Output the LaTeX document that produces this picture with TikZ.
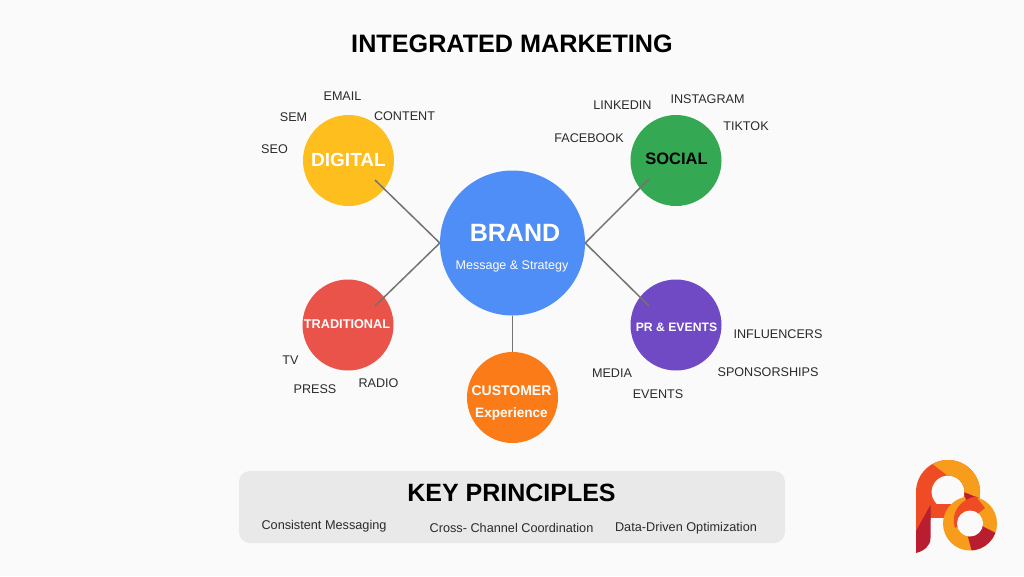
\documentclass[tikz,border=0pt]{standalone}
\usepackage{fontspec}
\setmainfont{Liberation Sans}
\definecolor{bgc}{HTML}{FAFAFA}
\definecolor{cyel}{HTML}{FDBE1E}
\definecolor{cgrn}{HTML}{34A853}
\definecolor{cred}{HTML}{EA5349}
\definecolor{cpur}{HTML}{6F4AC4}
\definecolor{cora}{HTML}{FA7B17}
\definecolor{cblu}{HTML}{4F8DF7}
\definecolor{cpanel}{HTML}{E9E9E9}
\definecolor{ctxt}{HTML}{2B2B2B}
\definecolor{lgr}{HTML}{EF4B24}
\definecolor{lgo}{HTML}{F89C1C}
\definecolor{lgd}{HTML}{B81E30}
\newcommand{\fsz}[1]{\fontsize{#1}{#1}\selectfont}
\tikzset{
  x=1pt,y=-1pt,
  hub/.style={circle,fill=#1,minimum size=91pt,inner sep=0pt},
  lbl/.style={text=ctxt,font=\fsz{12.6},inner sep=0pt,anchor=center},
  link/.style={draw=black!55,line width=1.5pt},
  prin/.style={text=ctxt,font=\fsz{12.7},inner sep=0pt,anchor=center},
}
\begin{document}
\begin{tikzpicture}
\useasboundingbox (0,0) rectangle (1024,576);
\fill[bgc] (0,0) rectangle (1024,576);
\node[inner sep=0pt,font=\bfseries\fsz{25.2}] (title) at (512,44) {INTEGRATED MARKETING};
% hubs
\node[hub=cblu,minimum size=145pt] (brand) at (512.5,243) {};
\node[hub=cyel] (digital) at (348.5,160.5) {};
\node[hub=cgrn] (social) at (676,160.5) {};
\node[hub=cred] (trad) at (348,325) {};
\node[hub=cpur] (pr) at (676,325) {};
\node[hub=cora] (cust) at (512.5,397.5) {};
% connector ends
\coordinate (dEnd) at (375,180);
\coordinate (sEnd) at (649,179);
\coordinate (tEnd) at (375,306);
\coordinate (pEnd) at (649,306);
\draw[link] (brand.west) -- (dEnd);
\draw[link] (brand.west) -- (tEnd);
\draw[link] (brand.east) -- (sEnd);
\draw[link] (brand.east) -- (pEnd);
\draw[link] (brand.south) -- (cust.north);
% hub labels
\node[inner sep=0pt,text=white,font=\bfseries\fsz{25}] (brandT) at (515,233) {BRAND};
\node[inner sep=0pt,text=white,font=\fsz{12.5}] (brandS) at (512,266) {Message \& Strategy};
\node[inner sep=0pt,text=white,font=\bfseries\fsz{19}] (digT) at (348.5,159.5) {DIGITAL};
\node[inner sep=0pt,text=black,font=\bfseries\fsz{16.5}] (socT) at (676.5,159) {SOCIAL};
\node[inner sep=0pt,text=white,font=\bfseries\fsz{12.7}] (traT) at (347,324.5) {TRADITIONAL};
\node[inner sep=0pt,text=white,font=\bfseries\fsz{12.2}] (prT) at (676.5,327.5) {PR \& EVENTS};
\node[inner sep=0pt,text=white,font=\bfseries\fsz{14}] (cuT) at (511.5,391) {CUSTOMER};
\node[inner sep=0pt,text=white,font=\bfseries\fsz{13.6}] (cuS) at (511.5,413.5) {Experience};
% satellites
\node[lbl] (seo) at (274.5,149) {SEO};
\node[lbl] (sem) at (293.5,117.5) {SEM};
\node[lbl] (email) at (342.5,96) {EMAIL};
\node[lbl] (content) at (404.5,116.5) {CONTENT};
\node[lbl] (fb) at (589,138) {FACEBOOK};
\node[lbl] (li) at (622.5,105.5) {LINKEDIN};
\node[lbl] (ig) at (707.5,99) {INSTAGRAM};
\node[lbl] (tt) at (746,126) {TIKTOK};
\node[lbl] (tv) at (290.5,360) {TV};
\node[lbl] (press) at (315,389.5) {PRESS};
\node[lbl] (radio) at (378.5,383) {RADIO};
\node[lbl] (media) at (612,373) {MEDIA};
\node[lbl] (events) at (658,394) {EVENTS};
\node[lbl] (spons) at (768,372.5) {SPONSORSHIPS};
\node[lbl] (infl) at (778,334) {INFLUENCERS};
% panel
\fill[cpanel,rounded corners=11pt] (239,471) rectangle (785,543);
\node[inner sep=0pt,font=\bfseries\fsz{25}] (key) at (511.5,492.5) {KEY PRINCIPLES};
\node[prin] (p1) at (324,526) {Consistent Messaging};
\node[prin] (p2) at (511.5,528) {Cross- Channel Coordination};
\node[prin] (p3) at (686,528) {Data-Driven Optimization};
% logo: P ring
\begin{scope}
  \clip (900,450) rectangle (990,508);
  \fill[lgr,even odd rule] (948,492) circle[radius=32] (948,492) circle[radius=16.5];
\end{scope}
% crossbar
\fill[lgr] (930,504) rectangle (960,518);
% stem
\fill[lgr] (916,492) -- (930.5,492) -- (930.5,520) -- (916,532) -- cycle;
\fill[lgd] (916,531) -- (930.5,505) -- (930.5,538) .. controls (930.5,546) and (924,551) .. (916,553) -- cycle;
% orange top of P
\begin{scope}
  \clip (930,462) -- (948,476) -- (960,490) -- (985,501) -- (990,450) -- (930,450) -- cycle;
  \fill[lgo,even odd rule] (948,492) circle[radius=32] (948,492) circle[radius=16.5];
\end{scope}
% O ring
\fill[lgo] (970,523.5) circle[radius=27];
\fill[lgd] (964,492.5) -- (979,498) -- (974,497.5) -- (966,500) -- cycle;
\fill[lgr] (955,528) .. controls (950,513) and (960,499) .. (976,496.5) -- (985,508) -- (975,516) -- cycle;
\begin{scope}
  \clip (968,537) -- (972,552) -- (1002,552) -- (998,534) -- (982,526) -- cycle;
  \fill[lgd] (970,523.5) circle[radius=27];
\end{scope}
\fill[bgc] (970,523.5) circle[radius=13];
\end{tikzpicture}
\end{document}
